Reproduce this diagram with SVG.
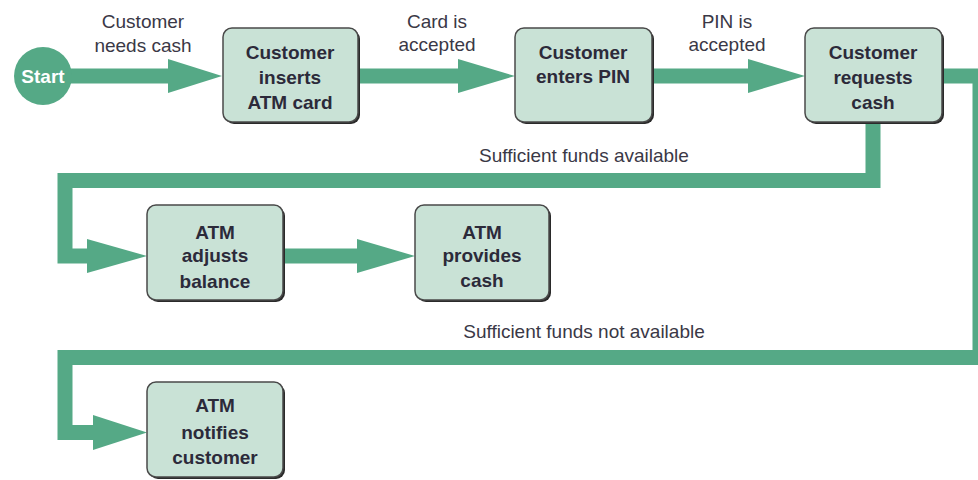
<svg xmlns="http://www.w3.org/2000/svg" width="978" height="480" viewBox="0 0 978 480">
  <style>
    .flow { fill: none; stroke: #55a986; stroke-width: 15; stroke-linejoin: miter; stroke-linecap: butt; }
    .head { fill: #55a986; }
    .shadow { fill: #2a2a2a; }
    .box { fill: #c9e2d6; stroke: #4a4a4a; stroke-width: 1.5; }
    .node-text { font-family: "Liberation Sans", Arial, sans-serif; font-size: 19px; font-weight: bold; fill: #2c2a3a; text-anchor: middle; }
    .label { font-family: "Liberation Sans", Arial, sans-serif; font-size: 19px; fill: #3a3846; text-anchor: middle; }
    .start-text { font-family: "Liberation Sans", Arial, sans-serif; font-size: 19px; font-weight: bold; fill: #ffffff; text-anchor: middle; }
  </style>
  <rect width="978" height="480" fill="#ffffff"/>

  <!-- connectors -->
  <g id="connectors">
    <!-- start to inserts card -->
    <line class="flow" x1="70" y1="76" x2="170" y2="76"/>
    <polygon class="head" points="168,59 222,76 168,93"/>
    <!-- inserts card to enters PIN -->
    <line class="flow" x1="358" y1="76" x2="460" y2="76"/>
    <polygon class="head" points="458,59 515,76 458,93"/>
    <!-- enters PIN to requests cash -->
    <line class="flow" x1="652" y1="76" x2="750" y2="76"/>
    <polygon class="head" points="748,59 805,76 748,93"/>
    <!-- funds available branch -->
    <polyline class="flow" points="873,122 873,180.5 65,180.5 65,256 90,256"/>
    <polygon class="head" points="87,239 147,256 87,273"/>
    <!-- adjusts balance to provides cash -->
    <line class="flow" x1="283" y1="256" x2="359" y2="256"/>
    <polygon class="head" points="357,239 415,256 357,273"/>
    <!-- funds not available branch -->
    <polyline class="flow" points="942,76 980,76 980,357.5 65,357.5 65,432.5 95,432.5"/>
    <polygon class="head" points="93,415 147,432.5 93,450"/>
  </g>

  <!-- start -->
  <g id="start">
    <circle cx="43" cy="76" r="29" fill="#55a986"/>
    <text class="start-text" x="43" y="83">Start</text>
  </g>

  <!-- process steps -->
  <g id="inserts-card">
    <rect class="shadow" x="225" y="30" width="135" height="94" rx="9"/>
    <rect class="box" x="223" y="28" width="135" height="94" rx="9"/>
    <text class="node-text" x="290" y="59">Customer</text>
    <text class="node-text" x="290" y="84">inserts</text>
    <text class="node-text" x="290" y="109">ATM card</text>
  </g>

  <g id="enters-pin">
    <rect class="shadow" x="517" y="30" width="137" height="94" rx="9"/>
    <rect class="box" x="515" y="28" width="137" height="94" rx="9"/>
    <text class="node-text" x="583" y="59">Customer</text>
    <text class="node-text" x="583" y="83">enters PIN</text>
  </g>

  <g id="requests-cash">
    <rect class="shadow" x="807" y="30" width="137" height="94" rx="9"/>
    <rect class="box" x="805" y="28" width="137" height="94" rx="9"/>
    <text class="node-text" x="873" y="59">Customer</text>
    <text class="node-text" x="873" y="84">requests</text>
    <text class="node-text" x="873" y="109">cash</text>
  </g>

  <g id="adjusts-balance">
    <rect class="shadow" x="149" y="207" width="136" height="95" rx="9"/>
    <rect class="box" x="147" y="205" width="136" height="95" rx="9"/>
    <text class="node-text" x="215" y="239">ATM</text>
    <text class="node-text" x="215" y="262">adjusts</text>
    <text class="node-text" x="215" y="288">balance</text>
  </g>

  <g id="provides-cash">
    <rect class="shadow" x="417" y="207" width="134" height="95" rx="9"/>
    <rect class="box" x="415" y="205" width="134" height="95" rx="9"/>
    <text class="node-text" x="482" y="239">ATM</text>
    <text class="node-text" x="482" y="262">provides</text>
    <text class="node-text" x="482" y="287">cash</text>
  </g>

  <g id="notifies-customer">
    <rect class="shadow" x="149" y="384" width="136" height="95" rx="9"/>
    <rect class="box" x="147" y="382" width="136" height="95" rx="9"/>
    <text class="node-text" x="215" y="412">ATM</text>
    <text class="node-text" x="215" y="439">notifies</text>
    <text class="node-text" x="215" y="464">customer</text>
  </g>

  <!-- connector labels -->
  <g id="labels">
    <text class="label" x="143" y="28">Customer</text>
    <text class="label" x="143" y="52">needs cash</text>
    <text class="label" x="437" y="28">Card is</text>
    <text class="label" x="437" y="51">accepted</text>
    <text class="label" x="727" y="28">PIN is</text>
    <text class="label" x="727" y="51">accepted</text>
    <text class="label" x="584" y="162">Sufficient funds available</text>
    <text class="label" x="584" y="338">Sufficient funds not available</text>
  </g>
</svg>
